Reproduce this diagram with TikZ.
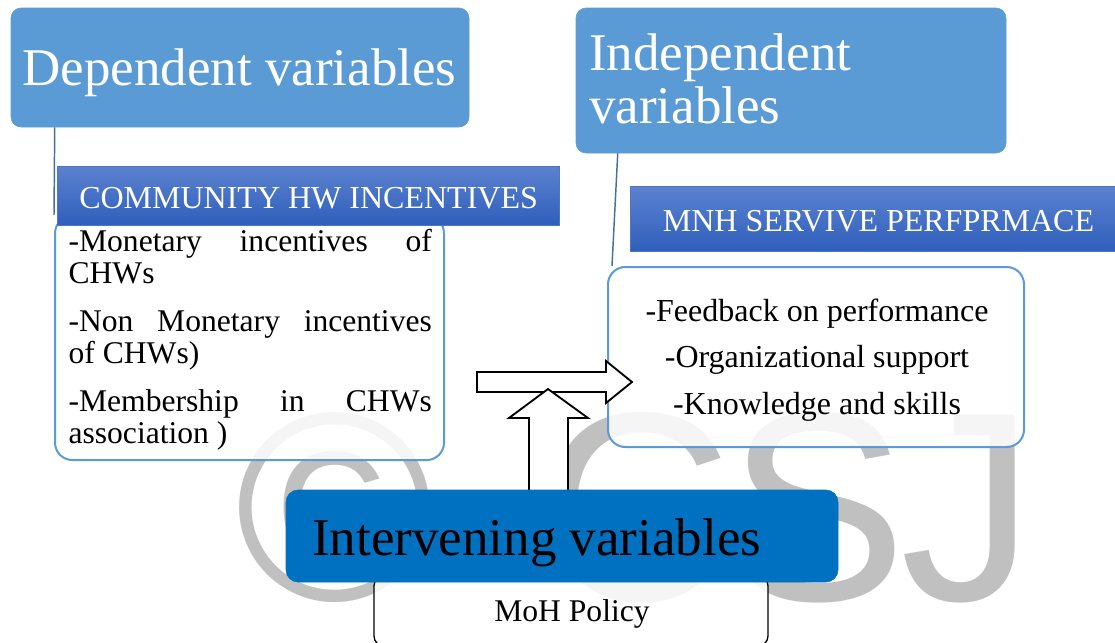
\documentclass[tikz,border=0pt]{standalone}
\usepackage{fontspec}
\setmainfont{Liberation Serif}
\newfontfamily\wmfont{Liberation Sans}
\usetikzlibrary{fit}

\definecolor{softblue}{HTML}{5B9BD5}
\definecolor{deepblue}{HTML}{0070C0}
\definecolor{linkblue}{HTML}{41719C}
\definecolor{hdrtop}{RGB}{92,130,208}
\definecolor{hdrbot}{RGB}{47,95,187}
\definecolor{hdredge}{RGB}{78,118,200}
\definecolor{wmgray}{HTML}{C0C0C0}

\newcommand\titlesize{\fontsize{39.75pt}{39.5pt}\selectfont}
\newcommand\headsize{\fontsize{24pt}{24pt}\selectfont}
\newcommand\listsize{\fontsize{23.7pt}{23.7pt}\selectfont}
\newcommand\rlistsize{\fontsize{24pt}{34.9pt}\selectfont}

\begin{document}
\begin{tikzpicture}[x=0.75pt,y=-0.75pt,
  bluetitle/.style={inner sep=0pt, rounded corners=7.5pt, fill=softblue, draw=softblue},
  headbar/.style={inner sep=0pt, top color=hdrtop, bottom color=hdrbot, draw=hdredge, line width=0.5pt},
  listbox/.style={inner sep=0pt, rounded corners=13pt, draw=softblue, line width=1.5pt, fill=white, fill opacity=0.85},
  policybox/.style={inner sep=0pt, rounded corners=7.5pt, draw=black, line width=1pt, fill=white, fill opacity=0.85},
  interbox/.style={inner sep=0pt, rounded corners=9pt, fill=deepblue, draw=deepblue},
  link/.style={draw=linkblue, line width=1.1pt},
  blockarrow/.style={draw=black, fill=white, line width=1.4pt, line join=miter},
  wm/.style={anchor=base, inner sep=0pt, text=wmgray, font=\wmfont\fontsize{202pt}{202pt}\selectfont},
  txt/.style={inner sep=0pt}]

\useasboundingbox (0,0) rectangle (1115,643);
\clip (0,0) rectangle (1115,643);

% background mark
\node[wm] (wm1) at (335,600) {©};
\node[wm] (wm2) at (636,600) {C};
\node[wm] (wm3) at (817,600) {S};
\node[wm] (wm4) at (968,600) {J};

% title boxes
\node[bluetitle, fit={(11,8) (469,127)}] (dep) {};
\node[bluetitle, fit={(576,8) (1006,153)}] (indep) {};
\node[txt, anchor=base west, text=white, font=\titlesize] (deptxt) at (22,85) {Dependent variables};
\node[txt, anchor=base west, text=white, font=\titlesize] (indeptxt) at (589,70.7)
  {\parbox[t]{300pt}{Independent\\variables}};

% list boxes
\node[listbox, fit={(55,216) (444,460)}] (inc) {};
\node[listbox, fit={(608,267) (1024,447)}] (perf) {};

% connectors from the titles
\draw[link] ([xshift=33pt]dep.south west) -- (inc.north west);
\draw[link] ([xshift=31.5pt]indep.south west) -- ([xshift=3.75pt]perf.north west);

% header bars
\node[headbar, fit={(57,166) (559,225)}] (inchead) {};
\node[headbar, fit={(630,186) (1127,251)}] (perfhead) {};
\node[txt, anchor=base west, text=white, font=\headsize] (incheadtxt) at (79,208.3) {COMMUNITY HW INCENTIVES};
\node[txt, anchor=base, text=white, font=\headsize] (perfheadtxt) at (878.5,231) {MNH SERVIVE PERFPRMACE};

% list texts
\node[txt, anchor=base west, font=\listsize] (inctxt) at (68.3,251.7)
  {\parbox[t]{272.5pt}{%
    \makebox[\linewidth][s]{-Monetary incentives of}\\
    CHWs\\[12.6pt]
    \makebox[\linewidth][s]{-Non Monetary incentives}\\
    of CHWs)\\[12.6pt]
    \makebox[\linewidth][s]{-Membership in CHWs}\\
    association )}};
\node[txt, anchor=base, font=\rlistsize] (perftxt) at (817,321)
  {\parbox[t]{300pt}{\centering
    -Feedback on performance\\
    -Organizational support\\
    -Knowledge and skills}};

% block arrows
\draw[blockarrow] (477,372) -- (606,372) -- (606,361) -- (632,382) -- (606,403)
  -- (606,392) -- (477,392) -- cycle;
\draw[blockarrow] (529,492) -- (529,418) -- (509,418) -- (548,389) -- (588,418)
  -- (568,418) -- (568,492) -- cycle;

% intervening variables and policy
\node[policybox, fit={(374,576) (768,646)}] (moh) {};
\node[interbox, fit={(286,490) (838,582)}] (inter) {};
\node[txt, anchor=base west, font=\titlesize] (intertxt) at (312,555) {Intervening variables};
\node[txt, anchor=base, font=\listsize] (mohtxt) at (572,621) {MoH Policy};

\end{tikzpicture}
\end{document}
